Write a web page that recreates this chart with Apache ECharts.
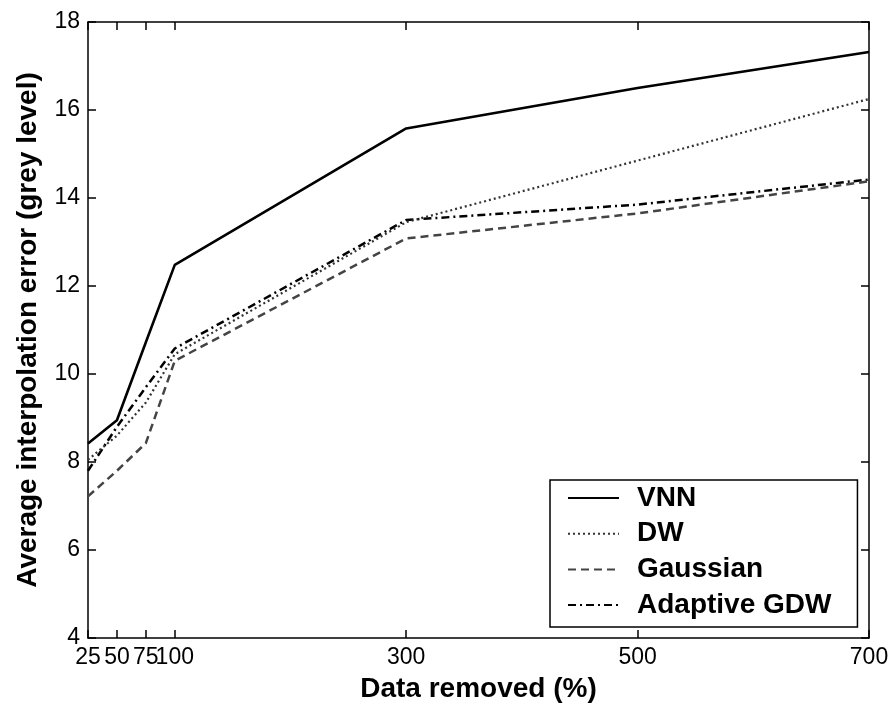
<!DOCTYPE html>
<html><head><meta charset="utf-8">
<script src="https://cdn.jsdelivr.net/npm/echarts@6/dist/echarts.min.js"></script>
<style>html,body{margin:0;padding:0;background:#fff}#c{width:893px;height:709px}</style>
</head><body><div id="c"></div>
<script>
const xValues = [25, 50, 75, 100, 300, 500, 700];
const xTicks = [25, 50, 75, 100, 300, 500, 700];
const yTicks = [4, 6, 8, 10, 12, 14, 16, 18];
const seriesNames = ['VNN', 'DW', 'Gaussian', 'Adaptive GDW'];
const vnn = [8.42, 8.95, 10.72, 12.48, 15.58, 16.5, 17.32];
const dw = [8.05, 8.6, 9.35, 10.45, 13.45, 14.85, 16.25];
const gaussian = [7.22, 7.8, 8.43, 10.3, 13.08, 13.65, 14.38];
const adaptive = [7.8, 8.8, 9.7, 10.58, 13.5, 13.85, 14.42];
const xName = 'Data removed (%)';
const yName = 'Average interpolation error (grey level)';

const FONT = '"Liberation Sans", Arial, sans-serif';
const pair = arr => xValues.map((x, i) => [x, arr[i]]);
const styles = [
  {color: '#000', width: 2.6, type: 'solid'},
  {color: '#333', width: 2.2, type: [2, 3]},
  {color: '#444', width: 2.5, type: [8, 5]},
  {color: '#000', width: 2.5, type: [8, 4, 2, 4]}
];
const datas = [vnn, dw, gaussian, adaptive];

const chart = echarts.init(document.getElementById('c'), null, {renderer: 'canvas'});
const baseX = {
  type: 'value', min: 25, max: 700,
  axisLine: {show: true, lineStyle: {color: '#000', width: 1.5}},
  splitLine: {show: false}
};
const baseY = {
  type: 'value', min: 4, max: 18, interval: 2,
  axisLine: {show: true, lineStyle: {color: '#000', width: 1.5}},
  splitLine: {show: false}
};
chart.setOption({
  animation: false,
  backgroundColor: '#fff',
  grid: {left: 88, right: 24, top: 22, bottom: 71},
  legend: {
    orient: 'vertical', left: 550, top: 480,
    data: seriesNames,
    itemWidth: 51, itemHeight: 28, itemGap: 7.7,
    padding: [4, 26, 8, 17],
    backgroundColor: '#fff',
    borderColor: '#000', borderWidth: 1.5, borderRadius: 0,
    itemStyle: {opacity: 0},
    textStyle: {fontFamily: FONT, fontSize: 28, fontWeight: 'bold', color: '#000', padding: [0, 0, 0, 13]}
  },
  xAxis: [
    Object.assign({}, baseX, {
      position: 'bottom',
      name: xName, nameLocation: 'middle', nameGap: 37,
      nameTextStyle: {fontFamily: FONT, fontSize: 28, fontWeight: 'bold', color: '#000'},
      axisTick: {show: true, inside: true, length: 8, customValues: xTicks, lineStyle: {color: '#000', width: 1.5}},
      axisLabel: {show: true, customValues: xTicks, margin: 8, fontFamily: FONT, fontSize: 23, color: '#000', hideOverlap: false}
    }),
    Object.assign({}, baseX, {
      position: 'top',
      axisTick: {show: true, inside: true, length: 8, customValues: xTicks, lineStyle: {color: '#000', width: 1.5}},
      axisLabel: {show: false}
    })
  ],
  yAxis: [
    Object.assign({}, baseY, {
      position: 'left',
      name: yName, nameLocation: 'middle', nameGap: 46,
      nameTextStyle: {fontFamily: FONT, fontSize: 28, fontWeight: 'bold', color: '#000'},
      axisTick: {show: true, inside: true, length: 8, lineStyle: {color: '#000', width: 1.5}},
      axisLabel: {show: true, margin: 8, fontFamily: FONT, fontSize: 23, color: '#000'}
    }),
    Object.assign({}, baseY, {
      position: 'right',
      axisTick: {show: true, inside: true, length: 8, lineStyle: {color: '#000', width: 1.5}},
      axisLabel: {show: false}
    })
  ],
  series: seriesNames.map((n, i) => ({
    name: n, type: 'line', data: pair(datas[i]),
    symbol: 'none', showSymbol: false,
    itemStyle: {color: styles[i].color},
    lineStyle: {color: styles[i].color, width: styles[i].width, type: styles[i].type},
    z: 10 - i
  }))
});
</script>
</body></html>
